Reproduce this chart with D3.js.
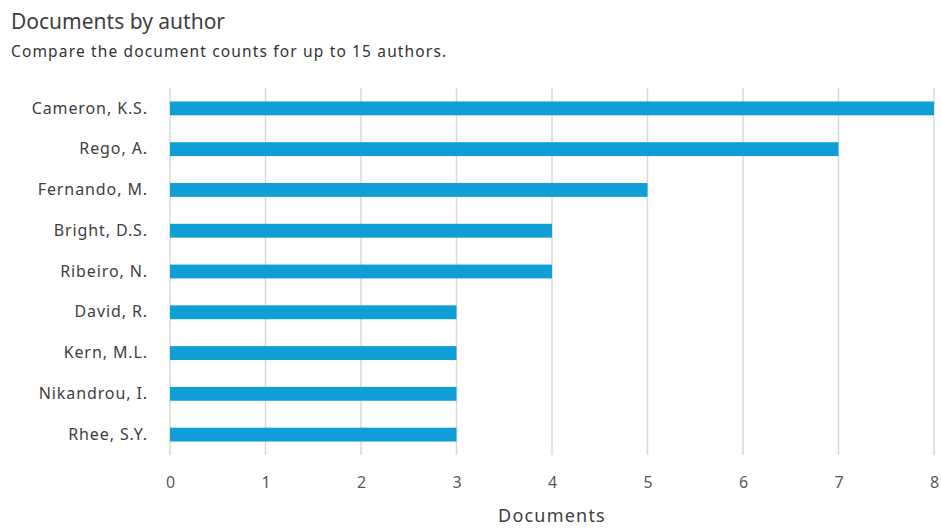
<!DOCTYPE html>
<html>
<head>
<meta charset="utf-8">
<script src="https://cdn.jsdelivr.net/npm/d3@7"></script>
<style>
  html, body { margin: 0; padding: 0; background: #ffffff; }
  svg { display: block; font-family: "Noto Sans", "Open Sans", sans-serif; }
</style>
</head>
<body>
<svg id="chart" width="941" height="530"></svg>
<script>
// Authors and their document counts
const authors = ["Cameron, K.S.", "Rego, A.", "Fernando, M.", "Bright, D.S.", "Ribeiro, N.", "David, R.", "Kern, M.L.", "Nikandrou, I.", "Rhee, S.Y."];
const documents = [8, 7, 5, 4, 4, 3, 3, 3, 3];
const xTicks = [0, 1, 2, 3, 4, 5, 6, 7, 8];

const svg = d3.select("#chart");
const margin = { left: 170, right: 7, top: 88, bottom: 75 };
const width = 941, height = 530;

const x = d3.scaleLinear().domain([0, 8]).range([margin.left, width - margin.right]);
const y = d3.scaleBand().domain(authors).range([margin.top, height - margin.bottom]).paddingInner(0.66).paddingOuter(0.33);

// Title and subtitle
svg.append("text").attr("x", 11).attr("y", 29)
  .attr("font-size", 21).attr("fill", "#404040").text("Documents by author");
svg.append("text").attr("x", 11).attr("y", 57)
  .attr("font-size", 15.5).attr("letter-spacing", 1.15).attr("fill", "#333333")
  .text("Compare the document counts for up to 15 authors.");

// Vertical gridlines
svg.append("g").selectAll("line").data(xTicks).join("line")
  .attr("x1", d => x(d)).attr("x2", d => x(d))
  .attr("y1", margin.top).attr("y2", height - margin.bottom)
  .attr("stroke", "#d9d9d9").attr("stroke-width", 1.5);

// Bars
svg.append("g").selectAll("rect").data(authors).join("rect")
  .attr("x", x(0))
  .attr("y", d => y(d))
  .attr("width", (d, i) => x(documents[i]) - x(0))
  .attr("height", y.bandwidth())
  .attr("fill", "#0f9ed5");

// Category axis labels
const yAxis = d3.axisLeft(y).tickSize(0).tickPadding(22);
const gy = svg.append("g").attr("transform", `translate(${margin.left},0)`).call(yAxis);
gy.select(".domain").remove();
gy.selectAll("text").attr("font-size", 16).attr("letter-spacing", 0.9)
  .attr("fill", "#404040").attr("font-family", "'Noto Sans', sans-serif");

// Value axis
const xAxis = d3.axisBottom(x).tickValues(xTicks).tickFormat(d3.format("d")).tickSize(0).tickPadding(22);
const gx = svg.append("g").attr("transform", `translate(0,${height - margin.bottom})`).call(xAxis);
gx.select(".domain").remove();
gx.selectAll("text").attr("font-size", 16).attr("fill", "#595959").attr("font-family", "'Noto Sans', sans-serif");

// Axis title
svg.append("text").attr("x", x(4)).attr("y", 522)
  .attr("text-anchor", "middle").attr("font-size", 18).attr("letter-spacing", 1.2)
  .attr("fill", "#404040").text("Documents");
</script>
</body>
</html>
